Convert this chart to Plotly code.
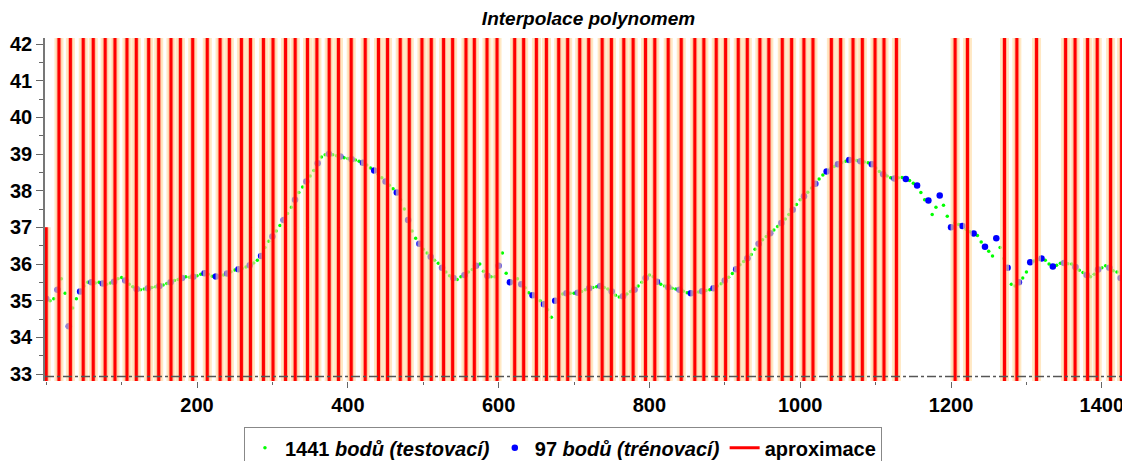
import plotly.graph_objects as go

# ---------------- data ----------------
# test series (1441 points in the original; values read every 5 samples)
test_step = 5
test_y = [
    35.05, 35.00, 35.05, 35.30, 35.60, 35.20, 34.30, 34.80, 35.05, 35.25,
    35.40, 35.50, 35.50, 35.48, 35.50, 35.47, 35.45, 35.48, 35.52, 35.60,
    35.63, 35.55, 35.45, 35.38, 35.32, 35.30, 35.32, 35.34, 35.36, 35.38,
    35.40, 35.43, 35.47, 35.50, 35.55, 35.58, 35.62, 35.65, 35.64, 35.65,
    35.68, 35.72, 35.75, 35.72, 35.67, 35.66, 35.68, 35.70, 35.74, 35.79,
    35.84, 35.86, 35.88, 35.92, 35.97, 36.03, 36.10, 36.22, 36.45, 36.62,
    36.75, 36.90, 37.05, 37.20, 37.38, 37.55, 37.75, 37.95, 38.10, 38.25,
    38.40, 38.55, 38.75, 38.92, 38.98, 39.00, 38.98, 38.95, 38.93, 38.90,
    38.88, 38.86, 38.84, 38.80, 38.76, 38.70, 38.62, 38.55, 38.45, 38.35,
    38.25, 38.15, 38.05, 37.95, 37.75, 37.50, 37.20, 36.90, 36.70, 36.55,
    36.40, 36.30, 36.20, 36.10, 36.02, 35.90, 35.78, 35.68, 35.62, 35.58,
    35.65, 35.70, 35.78, 35.85, 35.95, 36.00, 35.80, 35.68, 35.65, 35.65,
    35.95, 36.30, 35.75, 35.50, 35.52, 35.60, 35.45, 35.35, 35.22, 35.15,
    35.05, 35.00, 34.90, 34.75, 34.55, 35.00, 35.10, 35.18, 35.20, 35.20,
    35.20, 35.22, 35.25, 35.30, 35.34, 35.36, 35.38, 35.40, 35.36, 35.32,
    35.25, 35.15, 35.10, 35.12, 35.18, 35.25, 35.30, 35.40, 35.50, 35.62,
    35.70, 35.65, 35.52, 35.45, 35.40, 35.37, 35.34, 35.32, 35.30, 35.26,
    35.22, 35.20, 35.22, 35.24, 35.26, 35.28, 35.30, 35.34, 35.40, 35.46,
    35.55, 35.64, 35.74, 35.86, 35.98, 36.07, 36.16, 36.26, 36.40, 36.55,
    36.66, 36.75, 36.84, 36.93, 37.02, 37.12, 37.23, 37.35, 37.48, 37.62,
    37.75, 37.85, 37.96, 38.07, 38.19, 38.32, 38.43, 38.52, 38.60, 38.66,
    38.72, 38.76, 38.80, 38.84, 38.85, 38.82, 38.80, 38.78, 38.76, 38.72,
    38.62, 38.52, 38.45, 38.40, 38.35, 38.33, 38.35, 38.36, 38.32, 38.28,
    38.20, 38.14, 37.95, 37.75, 37.73, 37.35, 37.55, 37.87, 37.60, 37.30,
    37.00, 37.12, 37.08, 37.04, 36.95, 36.88, 36.83, 36.78, 36.60, 36.47,
    36.35, 36.22, 36.70, 36.45, 36.15, 35.90, 35.45, 35.40, 35.50, 35.62,
    35.78, 36.05, 36.08, 36.12, 36.15, 36.10, 36.00, 35.93, 35.97, 36.02,
    36.03, 36.01, 36.00, 35.92, 35.83, 35.77, 35.70, 35.65, 35.72, 35.85,
    35.90, 35.95, 35.90, 35.82, 35.78, 35.62, 35.48, 35.45, 35.40,
]
test_x = [i * test_step for i in range(len(test_y))]

# training series: 97 points, every 15th sample
train_x = test_x[::3]
train_y = test_y[::3]

# approximation (degree-96 interpolating polynomial): it starts in range,
# then only passes through the visible band at these x positions
aprox_start_x = 0
aprox_start_y = 37.0
aprox_cross = [
    1.5, 16.9, 32.1, 49.1, 62.4, 78.2, 91.2, 107.1, 119.5, 135.9, 149.2,
    165.5, 178.0, 194.3, 213.6, 230.6, 242.9, 258.9, 270.9, 288.1, 300.8,
    317.4, 330.2, 346.5, 359.0, 375.3, 387.6, 404.5, 423.1, 440.7, 452.7,
    469.5, 481.5, 498.3, 510.7, 527.0, 539.0, 556.7, 567.8, 584.6, 597.9,
    621.3, 633.2, 650.1, 663.4, 679.7, 691.6, 707.6, 719.5, 737.3, 749.6,
    766.0, 778.4, 794.8, 807.1, 824.9, 842.2, 860.2, 872.2, 888.6, 901.0,
    917.8, 929.8, 946.5, 958.4, 976.2, 988.6, 1004.9, 1016.9, 1041.3, 1053.6,
    1070.0, 1082.4, 1099.2, 1111.1, 1127.6, 1205.4, 1221.8, 1270.9, 1287.3,
    1313.4, 1351.9, 1364.5, 1381.1, 1393.9, 1411.6, 1426.2,
]
aprox_extreme = 1000.0  # far outside the visible band

x_ticks = [200, 400, 600, 800, 1000, 1200, 1400]
y_ticks = [33, 34, 35, 36, 37, 38, 39, 40, 41, 42]

# ---------------- build approximation polyline ----------------
ax_ = [aprox_start_x, aprox_cross[0]]
ay_ = [aprox_start_y, -aprox_extreme]
level = -aprox_extreme
for c in aprox_cross[1:]:
    ax_ += [c, c]
    ay_ += [level, -level]
    level = -level

FONT = "Liberation Sans, Arial, Helvetica, sans-serif"

fig = go.Figure()
fig.add_trace(go.Scatter(
    x=test_x, y=test_y, mode="markers", name="1441 <i>bodů (testovací)</i>",
    marker=dict(color="#00FF00", size=3.5, line=dict(width=0)),
))
fig.add_trace(go.Scatter(
    x=train_x, y=train_y, mode="markers", name="97 <i>bodů (trénovací)</i>",
    marker=dict(color="#0000FF", size=6.5, line=dict(width=0)),
))
fig.add_trace(go.Scatter(
    x=ax_, y=ay_, mode="lines", showlegend=False, hoverinfo="skip",
    line=dict(color="rgba(255,218,160,0.62)", width=9),
))
fig.add_trace(go.Scatter(
    x=ax_, y=ay_, mode="lines", showlegend=False, hoverinfo="skip",
    line=dict(color="rgba(255,130,100,0.45)", width=5),
))
fig.add_trace(go.Scatter(
    x=ax_, y=ay_, mode="lines", name="aproximace",
    line=dict(color="#FF0000", width=3),
))

# the page body adds an 8 px offset; margins compensate so the plot area
# lands where the reference has it
fig.update_layout(
    width=1130, height=475,
    margin=dict(l=37, r=6, t=30, b=102),
    paper_bgcolor="white", plot_bgcolor="white",
    font=dict(family=FONT, color="black"),
    title=dict(
        text="<b><i>Interpolace polynomem</i></b>",
        x=0.5, xref="paper", xanchor="center",
        y=1 - 10 / 475, yref="container", yanchor="middle",
        font=dict(size=19, family=FONT, color="black"),
    ),
    legend=dict(
        orientation="h", x=0.4765, xanchor="center", y=-0.135, yanchor="top",
        bgcolor="white", bordercolor="#888888", borderwidth=1,
        font=dict(size=20, family=FONT, color="black", weight="bold"),
        itemwidth=30,
    ),
    showlegend=True,
)
fig.update_xaxes(
    range=[-1.6, 1440], showgrid=False, zeroline=False, showline=False,
    automargin=False,
    tickvals=x_ticks, ticks="outside", ticklen=6, tickcolor="#666666",
    tickfont=dict(size=20, family=FONT, weight="bold", color="black"),
    minor=dict(dtick=100, tick0=0, ticks="outside", ticklen=3, tickcolor="#666666"),
)
fig.update_yaxes(
    range=[32.81, 42.164], showgrid=False, zeroline=False,
    automargin=False,
    showline=True, linecolor="#777777", linewidth=1.5,
    tickvals=y_ticks, ticks="outside", ticklen=7, tickcolor="#666666",
    tickfont=dict(size=20, family=FONT, weight="bold", color="black"),
    minor=dict(dtick=0.5, tick0=33, ticks="outside", ticklen=4, tickcolor="#666666"),
)
fig.add_shape(
    type="line", xref="paper", x0=0, x1=1, yref="y", y0=32.93, y1=32.93,
    line=dict(color="#555555", width=1.5, dash="dashdot"), layer="above",
)

fig.write_html("out.html")
